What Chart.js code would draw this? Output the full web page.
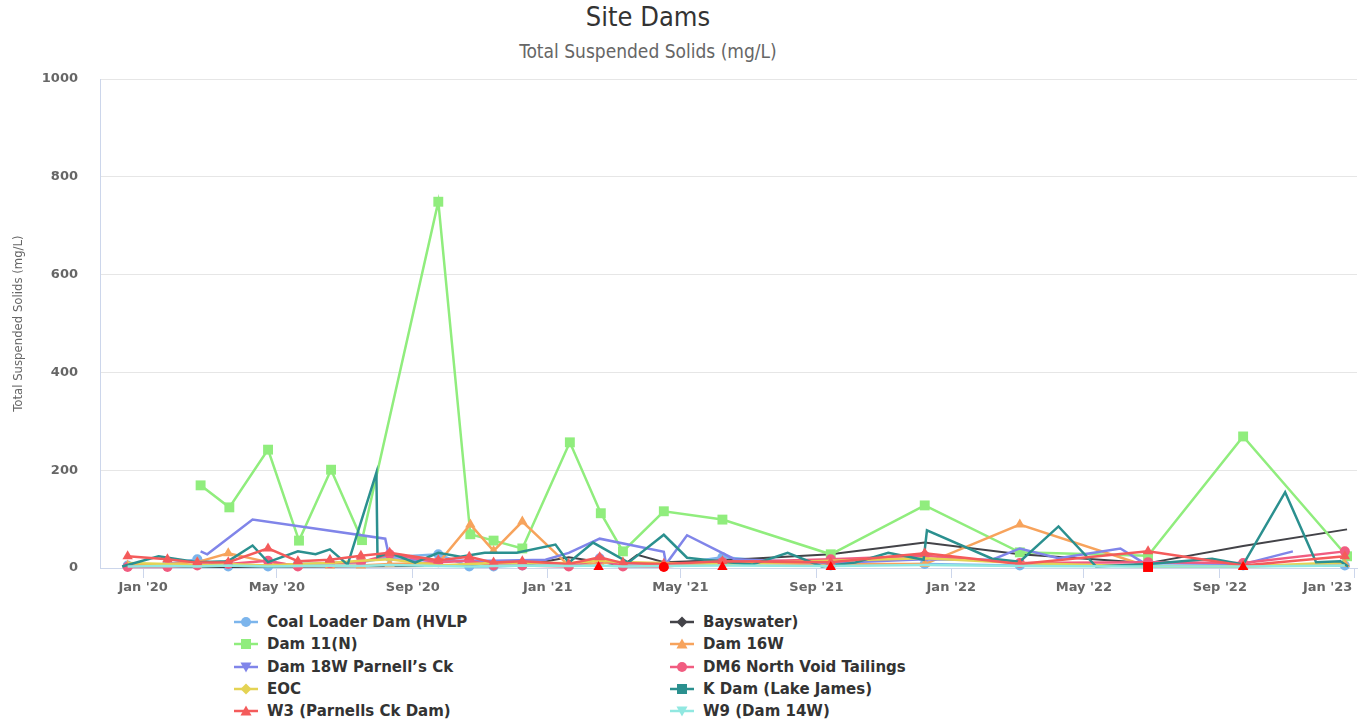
<!DOCTYPE html>
<html>
<head>
<meta charset="utf-8">
<title>Site Dams</title>
<script src="https://cdn.jsdelivr.net/npm/chart.js@4.4.1/dist/chart.umd.min.js"></script>
<style>
  body { margin: 0; background: #fff; width: 1367px; height: 722px; position: relative; overflow: hidden; }
  #title { position: absolute; left: 0; top: 1px; width: 1296px; text-align: center; color: #333;
           font: 27px 'DejaVu Sans Condensed', 'Liberation Sans Narrow', 'DejaVu Sans', sans-serif; }
  #subtitle { position: absolute; left: 0; top: 40px; width: 1296px; text-align: center; color: #666;
              font: 19px 'DejaVu Sans Condensed', 'Liberation Sans Narrow', 'DejaVu Sans', sans-serif; }
  #chartBox { position: absolute; left: 0; top: 0; }
  #legend { position: absolute; left: 234px; top: 611px; display: grid;
            grid-template-columns: 436px 436px; grid-auto-rows: 22.3px; }
  .item { display: flex; align-items: center; white-space: nowrap; color: #333;
          font: bold 15px 'DejaVu Sans', sans-serif; }
  .item svg { width: 24px; height: 14px; margin-right: 9px; }
</style>
</head>
<body>
<div id="title">Site Dams</div>
<div id="subtitle">Total Suspended Solids (mg/L)</div>
<div id="chartBox"><canvas id="chart" width="1367" height="600"></canvas></div>
<div id="legend"></div>

<script>
const seriesNames = ["Coal Loader Dam (HVLP", "Bayswater)", "Dam 11(N)", "Dam 16W", "Dam 18W Parnell’s Ck",
  "DM6 North Void Tailings", "EOC", "K Dam (Lake James)", "W3 (Parnells Ck Dam)", "W9 (Dam 14W)"];
const seriesColors = ["#7cb5ec", "#434348", "#90ed7d", "#f7a35c", "#8085e9",
  "#f15c80", "#e4d354", "#2b908f", "#f45b5b", "#91e8e1"];
const seriesMarkers = ["circle", "diamond", "square", "triangle", "triangle-down",
  "circle", "diamond", "square", "triangle", "triangle-down"];
// dense series are drawn without markers, as in the original
const showMarkers = [true, false, true, true, false, true, false, false, true, false];

const xTickDates = ["2020-01-01", "2020-05-01", "2020-09-01", "2021-01-01", "2021-05-01", "2021-09-01",
  "2022-01-01", "2022-05-01", "2022-09-01", "2023-01-01"];
const xTickLabels = ["Jan '20", "May '20", "Sep '20", "Jan '21", "May '21", "Sep '21",
  "Jan '22", "May '22", "Sep '22", "Jan '23"];
const yTicks = [0, 200, 400, 600, 800, 1000];

// [sample date, TSS mg/L]
const coalLoader = [["2019-12-18", 5], ["2020-01-23", 8], ["2020-02-19", 18], ["2020-03-18", 3], ["2020-04-23", 3],
  ["2020-05-20", 8], ["2020-06-18", 10], ["2020-07-16", 12], ["2020-08-11", 22], ["2020-09-24", 28],
  ["2020-10-22", 3], ["2020-11-13", 3], ["2020-12-09", 5], ["2021-01-20", 5], ["2021-02-17", 20],
  ["2021-03-10", 5], ["2021-04-16", 5], ["2021-06-08", 22], ["2021-09-14", 5], ["2021-12-08", 8],
  ["2022-03-04", 5], ["2022-06-28", 5], ["2022-09-22", 5], ["2022-12-23", 5]];
const bayswater = [["2019-12-18", 2], ["2020-03-18", 2], ["2020-06-18", 3], ["2020-09-24", 4], ["2020-12-09", 5],
  ["2021-01-20", 22], ["2021-03-10", 5], ["2021-03-23", 27], ["2021-04-16", 12], ["2021-06-08", 16],
  ["2021-09-14", 28], ["2021-12-08", 52], ["2022-03-04", 28], ["2022-06-28", 10], ["2022-09-22", 45],
  ["2022-12-25", 79]];
const dam11 = [["2020-02-22", 169], ["2020-03-19", 124], ["2020-04-23", 242], ["2020-05-21", 56], ["2020-06-19", 201],
  ["2020-07-17", 57], ["2020-09-24", 749], ["2020-10-23", 69], ["2020-11-13", 56], ["2020-12-09", 40],
  ["2021-01-21", 257], ["2021-02-18", 112], ["2021-03-10", 34], ["2021-04-16", 116], ["2021-06-08", 99],
  ["2021-09-14", 28], ["2021-12-08", 128], ["2022-03-04", 32], ["2022-06-28", 25], ["2022-09-22", 269],
  ["2022-12-25", 24]];
const dam16w = [["2019-12-18", 5], ["2020-01-23", 8], ["2020-02-19", 12], ["2020-03-18", 30], ["2020-04-23", 12],
  ["2020-05-20", 5], ["2020-06-18", 5], ["2020-07-16", 5], ["2020-08-11", 8], ["2020-09-24", 10],
  ["2020-10-23", 89], ["2020-11-13", 35], ["2020-12-09", 95], ["2021-01-20", 5], ["2021-02-17", 10],
  ["2021-03-10", 12], ["2021-04-16", 8], ["2021-06-08", 10], ["2021-09-14", 8], ["2021-12-08", 8],
  ["2022-03-04", 89], ["2022-06-28", 3], ["2022-09-22", 3], ["2022-12-23", 8]];
const dam18w = [["2020-02-22", 34], ["2020-02-28", 28], ["2020-04-09", 99], ["2020-08-07", 60], ["2020-08-11", 18],
  ["2020-09-24", 15], ["2020-11-13", 15], ["2020-12-30", 17], ["2021-01-20", 31], ["2021-02-17", 60],
  ["2021-04-16", 33], ["2021-04-18", 8], ["2021-05-07", 67], ["2021-06-19", 18], ["2021-09-14", 10],
  ["2021-12-08", 18], ["2022-02-07", 17], ["2022-03-04", 40], ["2022-04-08", 20], ["2022-06-03", 40],
  ["2022-06-23", 12], ["2022-09-22", 8], ["2022-11-06", 34]];
const dm6 = [["2019-12-18", 2], ["2020-01-23", 2], ["2020-02-19", 5], ["2020-03-18", 8], ["2020-04-23", 15],
  ["2020-05-20", 3], ["2020-06-18", 10], ["2020-07-16", 12], ["2020-08-11", 28], ["2020-09-24", 12],
  ["2020-10-22", 15], ["2020-11-13", 5], ["2020-12-09", 5], ["2021-01-20", 3], ["2021-02-17", 18],
  ["2021-03-10", 3], ["2021-04-16", 3], ["2021-06-08", 12], ["2021-09-14", 18], ["2021-12-08", 25],
  ["2022-03-04", 10], ["2022-06-28", 12], ["2022-09-22", 10], ["2022-12-23", 34]];
const eoc = [["2019-12-18", 10], ["2020-01-23", 8], ["2020-02-19", 5], ["2020-03-18", 8], ["2020-04-23", 5],
  ["2020-05-20", 8], ["2020-06-18", 10], ["2020-07-16", 15], ["2020-08-11", 18], ["2020-09-24", 5],
  ["2020-10-22", 8], ["2020-11-13", 10], ["2020-12-09", 10], ["2021-01-20", 10], ["2021-02-17", 15],
  ["2021-03-10", 12], ["2021-04-16", 10], ["2021-06-08", 8], ["2021-09-14", 15], ["2021-12-08", 20],
  ["2022-03-04", 10], ["2022-06-28", 3], ["2022-09-22", 3], ["2022-12-23", 12]];
const kDam = [["2019-12-13", 3], ["2020-01-15", 24], ["2020-02-19", 12], ["2020-03-18", 14], ["2020-04-09", 46],
  ["2020-04-23", 12], ["2020-05-20", 34], ["2020-06-05", 28], ["2020-06-18", 38], ["2020-07-04", 7],
  ["2020-07-30", 195], ["2020-07-31", 23], ["2020-08-11", 31], ["2020-09-03", 11], ["2020-09-24", 31],
  ["2020-10-14", 23], ["2020-11-05", 31], ["2020-12-04", 31], ["2021-01-08", 48], ["2021-01-20", 11],
  ["2021-02-11", 52], ["2021-03-15", 11], ["2021-04-16", 68], ["2021-05-07", 21], ["2021-06-08", 13],
  ["2021-07-05", 7], ["2021-08-06", 31], ["2021-09-06", 3], ["2021-10-06", 11], ["2021-11-05", 31],
  ["2021-12-07", 17], ["2021-12-10", 77], ["2022-02-07", 19], ["2022-03-04", 13], ["2022-04-08", 85],
  ["2022-05-12", 3], ["2022-06-28", 8], ["2022-08-25", 19], ["2022-09-22", 7], ["2022-10-30", 155],
  ["2022-11-27", 12], ["2022-12-19", 14], ["2022-12-26", 3]];
const w3 = [["2019-12-18", 24], ["2020-01-23", 18], ["2020-02-19", 11], ["2020-03-18", 12], ["2020-04-23", 40],
  ["2020-05-20", 14], ["2020-06-18", 17], ["2020-07-16", 25], ["2020-08-11", 31], ["2020-09-24", 16],
  ["2020-10-22", 23], ["2020-11-13", 11], ["2020-12-09", 14], ["2021-01-20", 8], ["2021-02-17", 22],
  ["2021-03-10", 10], ["2021-04-16", 8], ["2021-06-08", 14], ["2021-09-14", 12], ["2021-12-08", 30],
  ["2022-03-04", 8], ["2022-06-28", 34], ["2022-09-22", 5], ["2022-12-23", 24]];
const w9 = [["2019-12-18", 3], ["2020-01-23", 4], ["2020-02-19", 3], ["2020-03-18", 5], ["2020-04-23", 3],
  ["2020-05-20", 4], ["2020-06-18", 5], ["2020-07-16", 4], ["2020-08-11", 6], ["2020-09-24", 4],
  ["2020-10-22", 3], ["2020-11-13", 4], ["2020-12-09", 5], ["2021-01-20", 4], ["2021-02-17", 5],
  ["2021-03-10", 3], ["2021-04-16", 4], ["2021-06-08", 5], ["2021-09-14", 4], ["2021-12-08", 6],
  ["2022-03-04", 4], ["2022-06-28", 3], ["2022-09-22", 3], ["2022-12-23", 5]];
// samples flagged in solid red on the chart
const flagged = [["2021-02-16", 2], ["2021-04-16", 2], ["2021-06-08", 2], ["2021-09-14", 2], ["2022-06-28", 2], ["2022-09-22", 2]];
const flaggedMarkers = ["triangle", "circle", "triangle", "triangle", "square", "triangle"];

const seriesData = [coalLoader, bayswater, dam11, dam16w, dam18w, dm6, eoc, kDam, w3, w9];

const BASE = Date.UTC(2020, 0, 1);
function toDay(s) {
  const [y, m, d] = s.split("-").map(Number);
  return (Date.UTC(y, m - 1, d) - BASE) / 86400000;
}
function toPoints(rows) {
  return rows.map(([d, v]) => ({ x: toDay(d), y: v }));
}

// marker name -> chart.js point style / size / rotation
function markerOpts(m) {
  switch (m) {
    case "diamond": return { style: "rectRot", radius: 5.5, rotation: 0 };
    case "square": return { style: "rect", radius: 7, rotation: 0 };
    case "triangle": return { style: "triangle", radius: 6, rotation: 0 };
    case "triangle-down": return { style: "triangle", radius: 6, rotation: 180 };
    default: return { style: "circle", radius: 5, rotation: 0 };
  }
}

const datasets = seriesNames.map((name, i) => {
  const mk = markerOpts(seriesMarkers[i]);
  return {
    label: name,
    data: toPoints(seriesData[i]),
    borderColor: seriesColors[i],
    backgroundColor: seriesColors[i],
    borderWidth: i === 1 ? 2 : 2.5,
    pointStyle: mk.style,
    pointRadius: showMarkers[i] ? mk.radius : 0,
    pointRotation: mk.rotation,
    pointBorderWidth: 0,
    pointBackgroundColor: seriesColors[i],
    tension: 0,
    clip: false,
    order: seriesNames.length - i
  };
});

datasets.push({
  label: "flagged",
  data: toPoints(flagged),
  showLine: false,
  pointStyle: flaggedMarkers.map(m => markerOpts(m).style),
  pointRadius: flaggedMarkers.map(m => markerOpts(m).radius),
  pointBorderWidth: 0,
  pointBackgroundColor: "#ff0000",
  borderColor: "#ff0000",
  clip: false,
  order: -1
});

const axisFont = { family: "'DejaVu Sans', sans-serif", size: 13, weight: "bold" };

new Chart(document.getElementById("chart"), {
  type: "line",
  data: { datasets },
  options: {
    responsive: false,
    animation: false,
    events: [],
    layout: { padding: { top: 79, right: 10, left: 0, bottom: 0 } },
    plugins: { legend: { display: false }, tooltip: { enabled: false } },
    scales: {
      x: {
        type: "linear",
        min: toDay("2019-11-23"),
        max: toDay("2023-01-03"),
        afterBuildTicks: s => { s.ticks = xTickDates.map(d => ({ value: toDay(d) })); },
        afterFit: s => { s.height = 32; s.paddingLeft = 0; s.paddingRight = 0; },
        ticks: {
          autoSkip: false, maxRotation: 0, padding: 2, color: "#666", font: axisFont,
          // last label is pushed left so it stays inside the canvas
          callback: (v, i) => i === xTickLabels.length - 1 ? xTickLabels[i] + " ".repeat(12) : xTickLabels[i]
        },
        grid: { drawOnChartArea: false, drawTicks: true, tickLength: 10, tickColor: "#ccd6eb" },
        border: { color: "#ccd6eb" }
      },
      y: {
        min: 0,
        max: 1000,
        afterBuildTicks: s => { s.ticks = yTicks.map(v => ({ value: v })); },
        afterFit: s => { s.width = 100; },
        ticks: { padding: 22, color: "#666", font: axisFont, callback: v => String(v) },
        grid: { color: "#e6e6e6", drawTicks: false },
        border: { display: true, color: "#ccd6eb" },
        title: {
          display: true, text: "Total Suspended Solids (mg/L)", color: "#666",
          font: { family: "'DejaVu Sans Condensed', 'Liberation Sans Narrow', 'DejaVu Sans', sans-serif", size: 13 },
          padding: { top: 11, bottom: 0 }
        }
      }
    }
  }
});

// legend, two columns like the original
function symbolSvg(color, marker) {
  let shape;
  if (marker === "circle") shape = `<circle cx="12" cy="7" r="5" fill="${color}"/>`;
  else if (marker === "square") shape = `<rect x="7" y="2" width="10" height="10" fill="${color}"/>`;
  else if (marker === "diamond") shape = `<polygon points="12,1.5 17.5,7 12,12.5 6.5,7" fill="${color}"/>`;
  else if (marker === "triangle") shape = `<polygon points="12,1.5 17.5,11.5 6.5,11.5" fill="${color}"/>`;
  else shape = `<polygon points="6.5,2.5 17.5,2.5 12,12.5" fill="${color}"/>`;
  return `<svg viewBox="0 0 24 14"><line x1="0" y1="7" x2="24" y2="7" stroke="${color}" stroke-width="2.5"/>${shape}</svg>`;
}

const legendBox = document.getElementById("legend");
seriesNames.forEach((name, i) => {
  const item = document.createElement("div");
  item.className = "item";
  item.innerHTML = symbolSvg(seriesColors[i], seriesMarkers[i]);
  const span = document.createElement("span");
  span.textContent = name;
  item.appendChild(span);
  legendBox.appendChild(item);
});
</script>
</body>
</html>
